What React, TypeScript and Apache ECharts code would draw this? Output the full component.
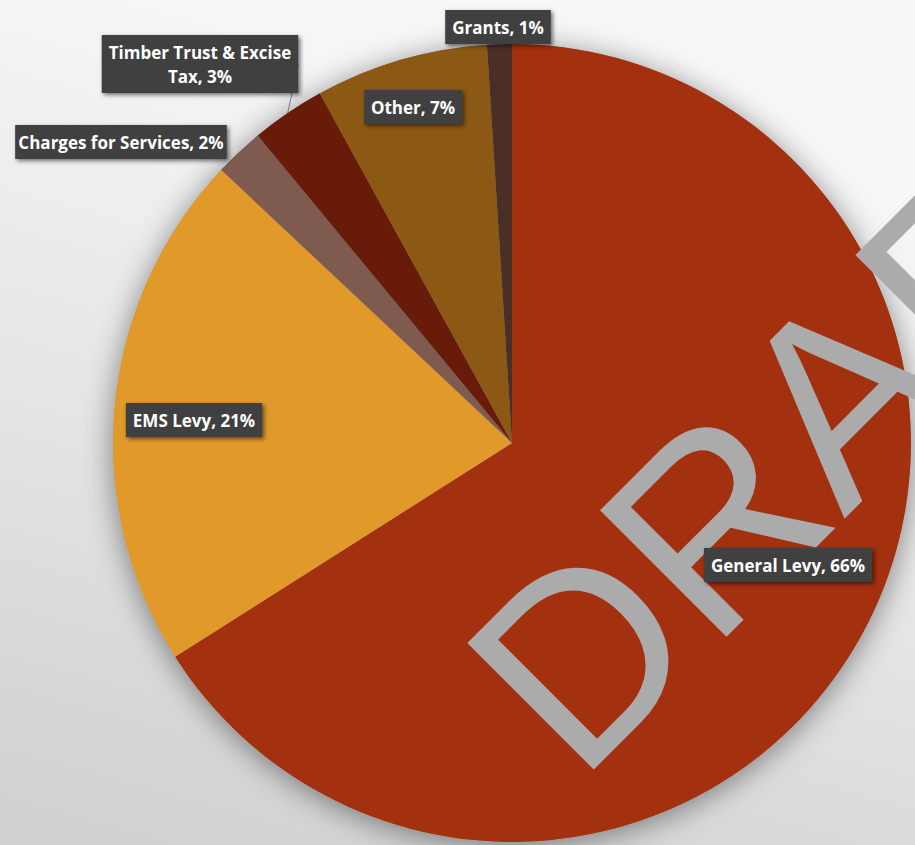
import React, { useEffect, useRef } from "react";
import * as echarts from "echarts";

const CATEGORIES = [
  "General Levy",
  "EMS Levy",
  "Charges for Services",
  "Timber Trust & Excise Tax",
  "Other",
  "Grants",
];
const SHARES = [66, 21, 2, 3, 7, 1];
const COLORS = ["#A3300E", "#E1992A", "#7E5A4F", "#681B08", "#8B5913", "#4B2F27"];

// label placement (layout only)
const LABEL_POS: [number, number][] = [
  [788, 565],
  [194, 420],
  [121, 142],
  [200, 64],
  [413, 107],
  [498, 27],
];
const LABEL_INSIDE = [true, true, false, false, true, false];
const LEADER = [false, false, false, true, false, false];

const CENTER: [number, number] = [512, 443];
const RADIUS = 399;

export default function App() {
  const ref = useRef<HTMLDivElement>(null);
  useEffect(() => {
    const chart = echarts.init(ref.current!, null, { renderer: "svg" });
    const total = SHARES.reduce((a, b) => a + b, 0);
    const data = CATEGORIES.map((name, i) => ({
      name,
      value: SHARES[i],
      itemStyle: { color: COLORS[i] },
    }));
    const labelData = CATEGORIES.map((name, i) => ({
      name,
      value: SHARES[i],
      label: { position: LABEL_INSIDE[i] ? "inside" : "outside" },
      labelLine: { show: LEADER[i] },
    }));
    chart.setOption({
      animation: false,
      backgroundColor: {
        type: "linear",
        x: 0.3,
        y: 0,
        x2: 0,
        y2: 1,
        colorStops: [
          { offset: 0, color: "#f7f7f7" },
          { offset: 0.4, color: "#e9e9e9" },
          { offset: 1, color: "#cfcfcf" },
        ],
      },
      graphic: {
        elements: [
          {
            type: "text",
            x: 515,
            y: 721,
            rotation: Math.PI / 4,
            z: 3,
            silent: true,
            style: {
              text: "DRAFT",
              fontSize: 260,
              fontFamily: "Liberation Sans",
              fill: "#ABABAB",
              textAlign: "left",
              textVerticalAlign: "middle",
              align: "left",
              verticalAlign: "middle",
            },
          },
        ],
      },
      series: [
        {
          type: "pie",
          z: 1,
          center: CENTER,
          radius: RADIUS,
          silent: true,
          label: { show: false },
          labelLine: { show: false },
          data: [{ value: total, name: "shadow" }],
          itemStyle: {
            color: "#9a9a9a",
            shadowBlur: 30,
            shadowColor: "rgba(0,0,0,0.45)",
            shadowOffsetX: 0,
            shadowOffsetY: 4,
          },
        },
        {
          type: "pie",
          z: 2,
          center: CENTER,
          radius: RADIUS,
          startAngle: 90,
          clockwise: true,
          label: { show: false },
          labelLine: { show: false },
          itemStyle: { borderWidth: 0 },
          data,
        },
        {
          type: "pie",
          z: 4,
          center: CENTER,
          radius: RADIUS,
          startAngle: 90,
          clockwise: true,
          silent: true,
          itemStyle: { color: "rgba(0,0,0,0)", borderWidth: 0 },
          label: {
            show: true,
            position: "outside",
            alignTo: "none",
            overflow: "none",
            formatter: (p: any) =>
              `${String(p.name).replace("Excise Tax", "Excise\nTax")}, ${p.value}%`,
            color: "#ffffff",
            fontFamily: "Open Sans",
            fontWeight: "bold",
            fontSize: 17,
            lineHeight: 24,
            align: "center",
            backgroundColor: "#404040",
            padding: [5, 7, 5, 7],
            shadowColor: "rgba(0,0,0,0.55)",
            shadowBlur: 4,
            shadowOffsetX: 2,
            shadowOffsetY: 2,
          },
          labelLine: {
            show: false,
            length: 5,
            length2: 5,
            lineStyle: { color: "#7f7f7f", width: 1 },
          },
          labelLayout: (params: any) => ({
            x: LABEL_POS[params.dataIndex][0],
            y: LABEL_POS[params.dataIndex][1],
            align: "center",
            verticalAlign: "middle",
          }),
          data: labelData,
        },
      ],
    });
    return () => chart.dispose();
  }, []);
  return (
    <div
      ref={ref}
      style={{ position: "fixed", left: 0, top: 0, width: 915, height: 845 }}
    />
  );
}
